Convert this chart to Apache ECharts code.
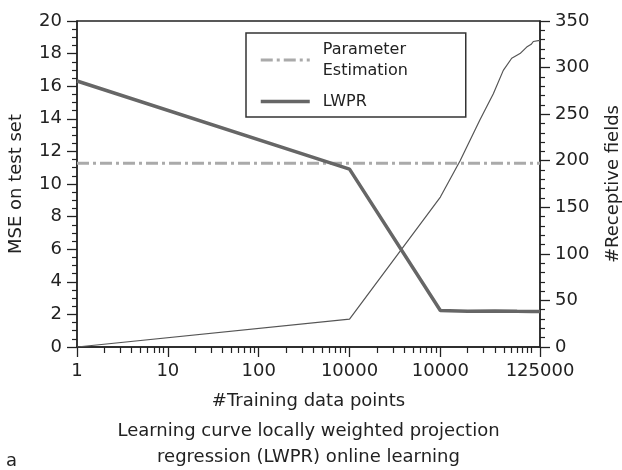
<!DOCTYPE html>
<html>
<head>
<meta charset="utf-8">
<script src="https://cdn.jsdelivr.net/npm/echarts@6/dist/echarts.min.js"></script>
<style>
html,body{margin:0;padding:0;background:#fff;}
#chart{width:622px;height:470px;}
</style>
</head>
<body>
<div id="chart"></div>
<script>
// ---- data ----
const xTickValues = [1, 10, 100, 1000, 10000, 125000];
const xTickLabels = ['1', '10', '100', '10000', '10000', '125000'];
const xMinorTicks = [2, 3, 4, 5, 6, 7, 8, 9,
  20, 30, 40, 50, 60, 70, 80, 90,
  200, 300, 400, 500, 600, 700, 800, 900,
  2000, 3000, 4000, 5000, 6000, 7000, 8000, 9000,
  20000, 30000, 40000, 50000, 60000, 70000, 80000, 90000, 100000];

const paramName = 'Parameter Estimation';
const paramX = [1, 125000];
const paramY = [11.28, 11.28];

const lwprName = 'LWPR';
const lwprX = [1, 1000, 10000, 20000, 40000, 70000, 100000, 125000];
const lwprY = [16.32, 10.91, 2.24, 2.2, 2.21, 2.19, 2.18, 2.18];

const rfName = '#Receptive fields';
const rfX = [1, 1000, 10000, 16500, 27300, 38300, 49300, 61000, 75300, 89200, 100000, 105500, 119700, 125000];
const rfY = [0, 30, 161, 200, 244, 272, 297, 310, 315, 322, 325, 328, 329, 329];

const leftTicks = {min: 0, max: 20, interval: 2};
const rightTicks = {min: 0, max: 350, interval: 50};

function zip(xs, ys) { return xs.map((x, i) => [x, ys[i]]); }

const FONT = 'DejaVu Sans';
const TXT = '#222';
const chart = echarts.init(document.getElementById('chart'), null, {renderer: 'canvas'});

const axisLineStyle = {color: '#222', width: 1.5};

chart.setOption({
  animation: false,
  backgroundColor: '#fff',
  title: [{
    text: 'Learning curve locally weighted projection\nregression (LWPR) online learning',
    left: 308.5, textAlign: 'center', top: 418, padding: 0,
    textStyle: {fontFamily: FONT, fontSize: 18, fontWeight: 'normal', color: TXT, lineHeight: 26}
  }, {
    text: 'a', left: 6, top: 452, padding: 0,
    textStyle: {fontFamily: FONT, fontSize: 18, fontWeight: 'normal', color: TXT}
  }],
  grid: {left: 77, right: 82, top: 21, bottom: 123, show: true, borderColor: '#222', borderWidth: 1.3,
    containLabel: false, outerBoundsMode: 'none'},
  legend: {
    data: [paramName, lwprName],
    orient: 'vertical',
    left: 246, top: 33,
    padding: [6, 14, 5, 13],
    itemGap: 10,
    itemWidth: 49, itemHeight: 14,
    borderColor: '#333', borderWidth: 1.5,
    backgroundColor: '#fff',
    lineStyle: {width: 'inherit', type: 'inherit'},
    itemStyle: {color: 'rgba(0,0,0,0)', borderColor: 'rgba(0,0,0,0)', borderWidth: 0, opacity: 0},
    formatter: n => n.replace(' ', '\n'),
    textStyle: {fontFamily: FONT, fontSize: 16, color: TXT, lineHeight: 21, padding: [0, 0, 0, 8], width: 129}
  },
  xAxis: [{
    type: 'log', logBase: 10, min: 1, max: 125000,
    gridIndex: 0, position: 'bottom',
    name: '#Training data points', nameLocation: 'middle', nameGap: 45,
    nameTextStyle: {fontFamily: FONT, fontSize: 18, color: TXT},
    axisLine: {show: true, lineStyle: axisLineStyle},
    axisTick: {show: true, inside: false, length: 10, customValues: xTickValues, lineStyle: {color: '#222', width: 1.3}},
    axisLabel: {customValues: xTickValues, margin: 15, fontFamily: FONT, fontSize: 18, color: TXT,
      formatter: v => { const i = xTickValues.findIndex(t => Math.abs(t - v) / t < 1e-6); return i >= 0 ? xTickLabels[i] : ''; }},
    splitLine: {show: false}, minorTick: {show: false}, minorSplitLine: {show: false}
  }, {
    type: 'log', logBase: 10, min: 1, max: 125000,
    gridIndex: 0, position: 'bottom', offset: 0,
    axisLine: {show: false},
    axisTick: {show: true, inside: false, length: 6, customValues: xMinorTicks, lineStyle: {color: '#222', width: 1.2}},
    axisLabel: {show: false},
    splitLine: {show: false}
  }],
  yAxis: [{
    type: 'value', min: leftTicks.min, max: leftTicks.max, interval: leftTicks.interval,
    position: 'left',
    name: 'MSE on test set', nameLocation: 'middle', nameGap: 52, nameRotate: 90,
    nameTextStyle: {fontFamily: FONT, fontSize: 18, color: TXT},
    axisLine: {show: true, lineStyle: axisLineStyle},
    axisTick: {show: true, inside: false, length: 10, lineStyle: {color: '#222', width: 1.3}},
    minorTick: {show: true, splitNumber: 4, length: 5, lineStyle: {color: '#222', width: 1.2}},
    axisLabel: {margin: 15, fontFamily: FONT, fontSize: 18, color: TXT},
    splitLine: {show: false}
  }, {
    type: 'value', min: rightTicks.min, max: rightTicks.max, interval: rightTicks.interval,
    position: 'right',
    name: rfName, nameLocation: 'middle', nameGap: 64, nameRotate: 90,
    nameTextStyle: {fontFamily: FONT, fontSize: 18, color: TXT},
    axisLine: {show: true, lineStyle: axisLineStyle},
    axisTick: {show: true, inside: false, length: 10, lineStyle: {color: '#222', width: 1.3}},
    minorTick: {show: true, splitNumber: 5, length: 5, lineStyle: {color: '#222', width: 1.2}},
    axisLabel: {margin: 15, fontFamily: FONT, fontSize: 18, color: TXT},
    splitLine: {show: false}
  }],
  series: [{
    name: rfName, type: 'line', xAxisIndex: 0, yAxisIndex: 1,
    data: zip(rfX, rfY), symbol: 'none', silent: true,
    lineStyle: {color: '#555', width: 1.2}, itemStyle: {color: '#555'}, z: 2
  }, {
    name: paramName, type: 'line', xAxisIndex: 0, yAxisIndex: 0,
    data: zip(paramX, paramY), symbol: 'none',
    lineStyle: {color: '#aaa', width: 3, type: [12, 4, 3, 4]}, itemStyle: {color: '#aaa'}, z: 3
  }, {
    name: lwprName, type: 'line', xAxisIndex: 0, yAxisIndex: 0,
    data: zip(lwprX, lwprY), symbol: 'none',
    lineStyle: {color: '#666', width: 3.5}, itemStyle: {color: '#666'}, z: 4
  }]
});
</script>
</body>
</html>
